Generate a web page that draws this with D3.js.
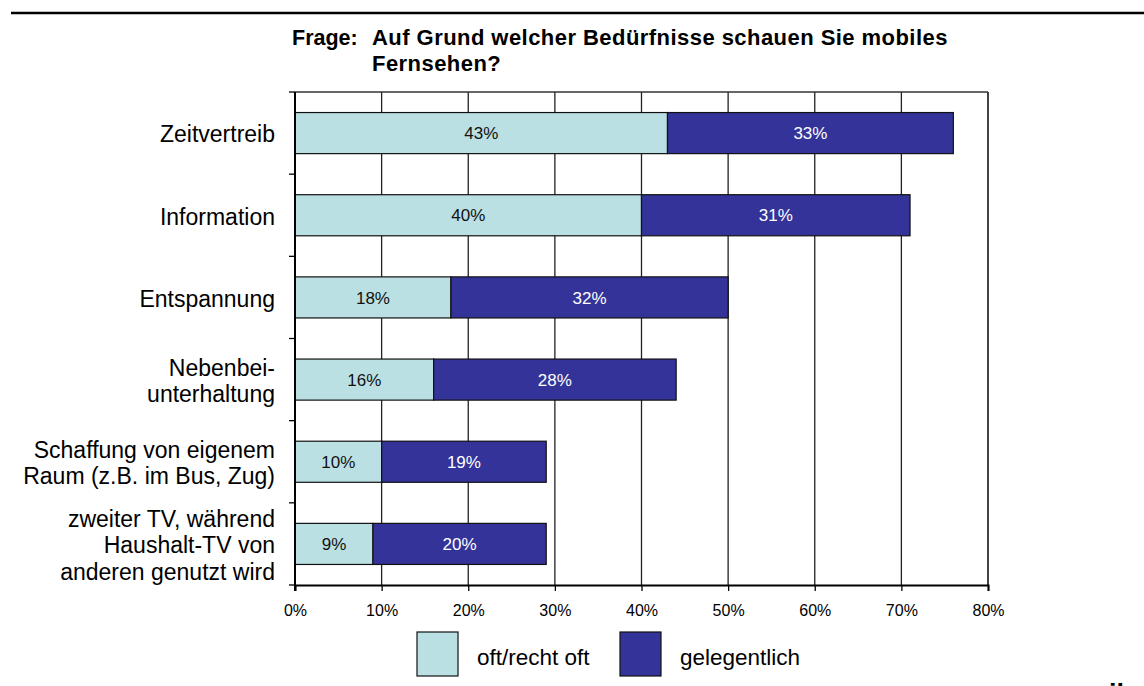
<!DOCTYPE html>
<html>
<head>
<meta charset="utf-8">
<script src="https://cdn.jsdelivr.net/npm/d3@7"></script>
<style>
  body { margin: 0; background: #fff; }
  svg { font-family: Arial, "Liberation Sans", sans-serif; }
</style>
</head>
<body>
<svg id="chart" width="1144" height="686"></svg>
<script>
// data
var categories = [
    ["Zeitvertreib"],
    ["Information"],
    ["Entspannung"],
    ["Nebenbei-", "unterhaltung"],
    ["Schaffung von eigenem", "Raum (z.B. im Bus, Zug)"],
    ["zweiter TV, während", "Haushalt-TV von", "anderen genutzt wird"]
];
var oftValues = [43, 40, 18, 16, 10, 9];
var gelegentlichValues = [33, 31, 32, 28, 19, 20];
var seriesNames = ["oft/recht oft", "gelegentlich"];
var xTicks = [0, 10, 20, 30, 40, 50, 60, 70, 80];
var titleLines = ["Auf Grund welcher Bedürfnisse schauen Sie mobiles", "Fernsehen?"];

var colors = ["#BBE0E3", "#333399"];

var margin = { top: 92, right: 156, bottom: 101, left: 295 },
    width = 1144 - margin.left - margin.right,
    height = 686 - margin.top - margin.bottom;

var svg = d3.select("#chart");

// rule at top of page
svg.append("line")
    .attr("x1", 11).attr("x2", 1144)
    .attr("y1", 13).attr("y2", 13)
    .attr("stroke", "#000").attr("stroke-width", 2.5);

// title
svg.append("text")
    .attr("x", 292).attr("y", 45)
    .style("font-size", "21.5px").style("font-weight", "bold")
    .text("Frage:");
svg.selectAll(".title")
    .data(titleLines)
    .enter()
    .append("text")
    .attr("class", "title")
    .attr("x", 372)
    .attr("y", function(d, i) { return 45 + i * 26; })
    .style("font-size", "22px").style("font-weight", "bold")
    .style("letter-spacing", "0.45px")
    .text(function(d) { return d; });

var g = svg.append("g")
    .attr("transform", `translate(${margin.left}, ${margin.top})`);

var x = d3.scaleLinear().domain([0, 80]).range([0, width]);
var y = d3.scaleBand()
    .domain(d3.range(categories.length))
    .range([0, height])
    .paddingInner(0.5)
    .paddingOuter(0.25);

// gridlines
g.selectAll(".grid")
    .data(xTicks.slice(1))
    .enter()
    .append("line")
    .attr("class", "grid")
    .attr("x1", function(d) { return x(d); })
    .attr("x2", function(d) { return x(d); })
    .attr("y1", 0).attr("y2", height)
    .attr("stroke", "#222").attr("stroke-width", 1.3);

// top and right frame
g.append("line").attr("x1", 0).attr("x2", width).attr("y1", 0).attr("y2", 0)
    .attr("stroke", "#333").attr("stroke-width", 1.5);
g.append("line").attr("x1", width).attr("x2", width).attr("y1", 0).attr("y2", height)
    .attr("stroke", "#333").attr("stroke-width", 1.5);

// stacked bars
var rows = categories.map(function(c, i) {
    return { i: i, parts: [
        { x0: 0, x1: oftValues[i], v: oftValues[i], s: 0 },
        { x0: oftValues[i], x1: oftValues[i] + gelegentlichValues[i], v: gelegentlichValues[i], s: 1 }
    ] };
});

var row = g.selectAll(".row")
    .data(rows)
    .enter()
    .append("g")
    .attr("class", "row")
    .attr("transform", function(d) { return `translate(0, ${y(d.i)})`; });

row.selectAll("rect")
    .data(function(d) { return d.parts; })
    .enter()
    .append("rect")
    .attr("x", function(d) { return x(d.x0); })
    .attr("width", function(d) { return x(d.x1) - x(d.x0); })
    .attr("y", 0)
    .attr("height", y.bandwidth())
    .attr("fill", function(d) { return colors[d.s]; })
    .attr("stroke", "#111")
    .attr("stroke-width", 1.2);

row.selectAll(".val")
    .data(function(d) { return d.parts; })
    .enter()
    .append("text")
    .attr("class", "val")
    .attr("x", function(d) { return (x(d.x0) + x(d.x1)) / 2; })
    .attr("y", y.bandwidth() / 2)
    .attr("dy", "0.36em")
    .attr("text-anchor", "middle")
    .style("font-size", "17px")
    .attr("fill", function(d) { return d.s == 0 ? "#111" : "#fff"; })
    .text(function(d) { return d.v + "%"; });

// x axis
var xAxis = g.append("g")
    .attr("transform", `translate(0, ${height})`)
    .call(d3.axisBottom(x).tickValues(xTicks).tickSize(6).tickPadding(14)
        .tickFormat(function(d) { return d + "%"; }));
xAxis.select(".domain").attr("stroke", "#000").attr("stroke-width", 2);
xAxis.selectAll(".tick line").attr("stroke", "#000").attr("stroke-width", 1.3);
xAxis.selectAll("text").style("font-size", "16px").attr("fill", "#000")
    .style("font-family", "Arial, 'Liberation Sans', sans-serif");

// y axis line with boundary ticks
g.append("line").attr("x1", 0).attr("x2", 0).attr("y1", 0).attr("y2", height + 6)
    .attr("stroke", "#000").attr("stroke-width", 2);
g.selectAll(".ytick")
    .data(d3.range(categories.length + 1))
    .enter()
    .append("line")
    .attr("class", "ytick")
    .attr("x1", -6).attr("x2", 0)
    .attr("y1", function(d) { return d * height / categories.length; })
    .attr("y2", function(d) { return d * height / categories.length; })
    .attr("stroke", "#000").attr("stroke-width", 1.3);

// category labels
var lineH = 26.5;
g.selectAll(".cat")
    .data(categories)
    .enter()
    .append("text")
    .attr("class", "cat")
    .attr("text-anchor", "end")
    .style("font-size", "23px")
    .attr("fill", "#000")
    .attr("transform", function(d, i) {
        return `translate(-20, ${y(i) + y.bandwidth() / 2 + 1 - (d.length - 1) * lineH / 2})`;
    })
    .each(function(d) {
        d3.select(this).selectAll("tspan")
            .data(d)
            .enter()
            .append("tspan")
            .attr("x", 0)
            .attr("y", function(t, j) { return j * lineH; })
            .attr("dy", "0.36em")
            .text(function(t) { return t; });
    });

// legend
var legendX = [417, 620];
var legend = svg.selectAll(".legend")
    .data(seriesNames)
    .enter()
    .append("g")
    .attr("class", "legend")
    .attr("transform", function(d, i) { return `translate(${legendX[i]}, 632)`; });
legend.append("rect")
    .attr("width", 41).attr("height", 44)
    .attr("fill", function(d, i) { return colors[i]; })
    .attr("stroke", "#111").attr("stroke-width", 1.2);
legend.append("text")
    .attr("x", 60).attr("y", 33)
    .style("font-size", "22.5px")
    .attr("fill", "#000")
    .text(function(d) { return d; });

// cut-off mark in bottom right corner
svg.append("text")
    .attr("x", 1109).attr("y", 703)
    .style("font-size", "27px").style("font-weight", "bold")
    .text("il");
</script>
</body>
</html>
